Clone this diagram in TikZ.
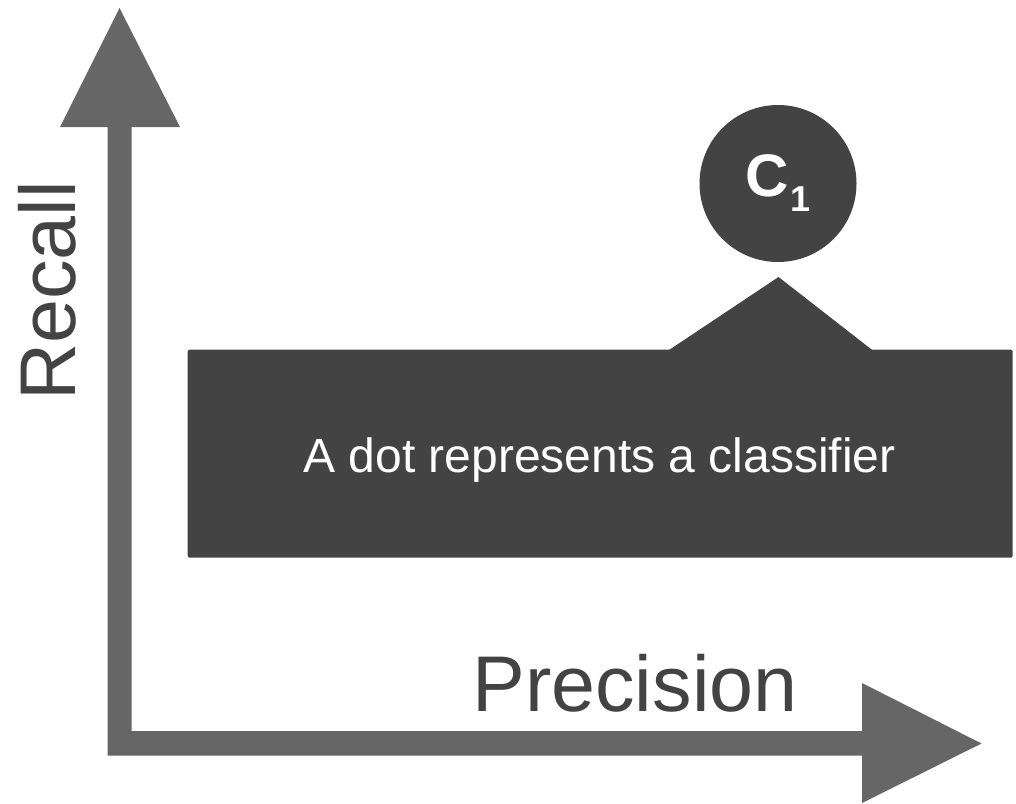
\documentclass[tikz,border=0pt]{standalone}
\usepackage{fontspec}
\setmainfont{Liberation Sans}
\definecolor{axisgray}{HTML}{666666}
\definecolor{boxgray}{HTML}{434343}
\tikzset{
  axislabel/.style={text=boxgray, font=\fontsize{79}{82}\selectfont, inner sep=0pt, anchor=base},
  calloutbox/.style={fill=boxgray, rounded corners=2pt, minimum width=825pt, minimum height=208pt, inner sep=0pt, anchor=north west},
  dotnode/.style={circle, fill=boxgray, minimum size=157pt, inner sep=0pt, text=white}
}
\begin{document}
\begin{tikzpicture}[x=1pt,y=-1pt]
\useasboundingbox (0,0) rectangle (1016,803);
% axes
\fill[axisgray] (107.5,755.5) -- (107.5,127) -- (60,127) -- (119.5,8) -- (180,127) -- (131.5,127) -- (131.5,731) -- (862,731) -- (862,683) -- (981.5,743.5) -- (862,803) -- (862,755.5) -- cycle;
% axis labels
\node[axislabel, rotate=90] (recall) at (75,291) {Recall};
\node[axislabel] (precision) at (635,711) {Precision};
% callout
\node[calloutbox] (box) at (187.5,349.5) {};
\fill[boxgray] (667.5,351) -- (778.5,277) -- (873.5,351) -- cycle;
\node[text=white, font=\fontsize{48}{50}\selectfont, inner sep=0pt, anchor=base] (boxtext) at (599.5,472) {A dot represents a classifier};
% classifier dot
\node[dotnode] (c1) at (778,183.5) {\fontsize{60}{64}\selectfont\bfseries C\kern1pt\raisebox{-15pt}{\fontsize{36}{38}\selectfont 1}};
\end{tikzpicture}
\end{document}
